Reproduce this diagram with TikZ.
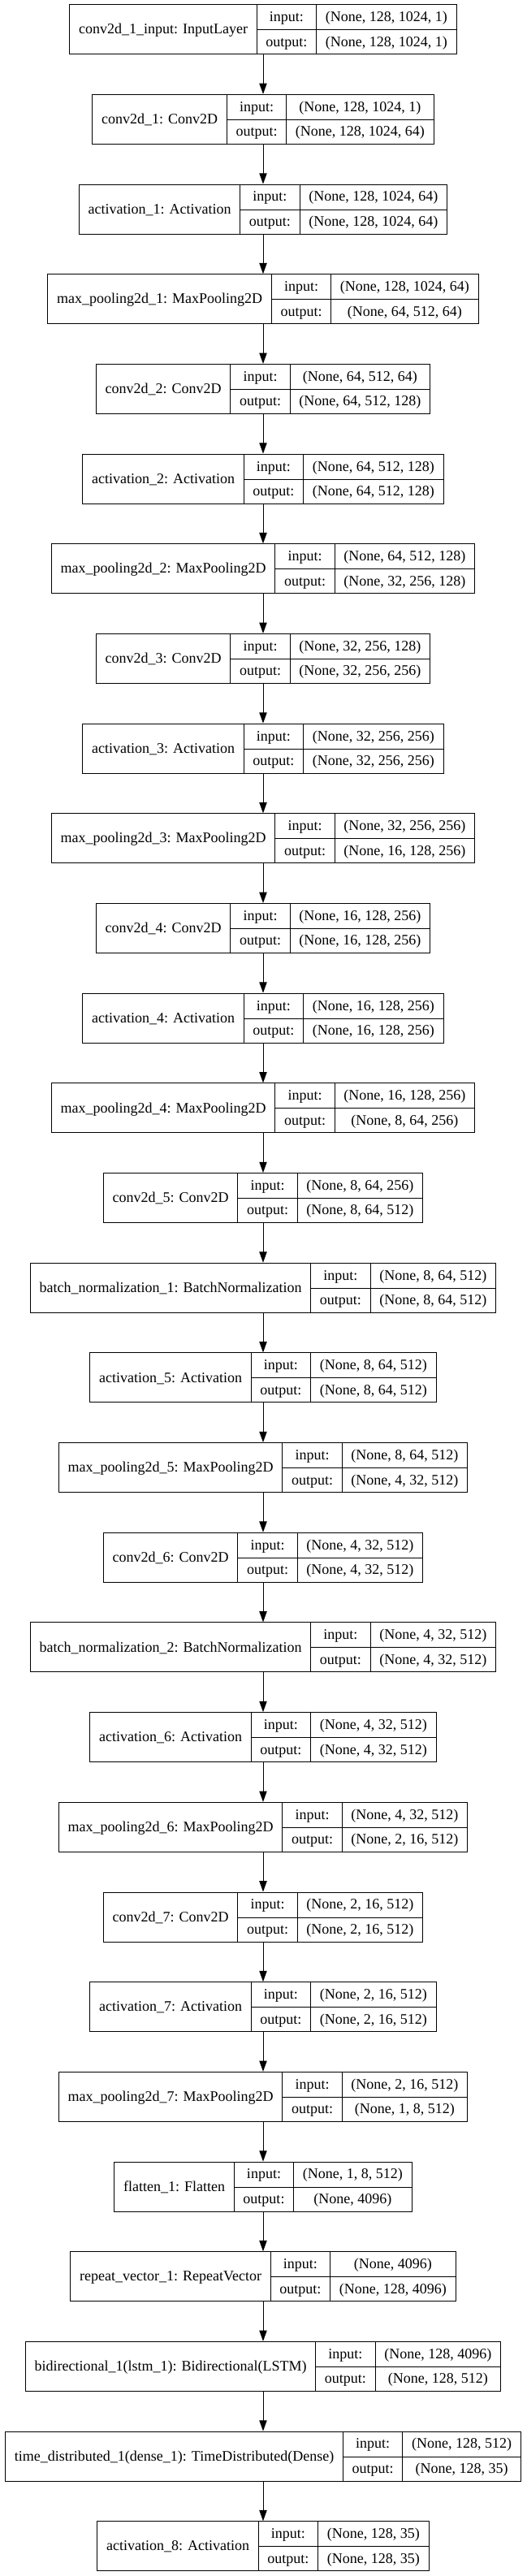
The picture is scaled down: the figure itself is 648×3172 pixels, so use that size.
\documentclass[tikz,border=0pt]{standalone}
\usepackage{fontspec}
\setmainfont{Liberation Serif}
\usepackage{tikz}
\usetikzlibrary{positioning,arrows.meta}

\setlength{\arrayrulewidth}{1pt}
\setlength{\tabcolsep}{11.2pt}
\newcommand{\rs}{\rule[-9.6pt]{0pt}{30.5pt}}
\newcommand{\layerrec}[3]{%
  \begin{tabular}{c|c|c}
    \raisebox{-15.25pt}[0pt][0pt]{#1} & input:\rs & #2 \\ \cline{2-3}
    & output:\rs & #3
  \end{tabular}}

\begin{document}
\begin{tikzpicture}[node distance=110.68pt]
                \tikzstyle{layer} = [rectangle, draw=black, line width=1pt, inner sep=0pt, font=\fontsize{18}{21.6}\selectfont]
                \tikzstyle{arrow} = [line width=1pt,->,>={Triangle[length=13.3pt,width=9.3pt]}]
                \useasboundingbox (0,0) rectangle (648pt,-3172pt);
                \node (inp) [layer] at (324pt,-36.2pt) {\layerrec{conv2d\_1\_input: InputLayer}{(None, 128, 1024, 1)}{(None, 128, 1024, 1)}};
                \node (conv1) [layer, below of=inp] {\layerrec{conv2d\_1: Conv2D}{(None, 128, 1024, 1)}{(None, 128, 1024, 64)}};
                \node (act1) [layer, below of=conv1] {\layerrec{activation\_1: Activation}{(None, 128, 1024, 64)}{(None, 128, 1024, 64)}};
                \node (pool1) [layer, below of=act1] {\layerrec{max\_pooling2d\_1: MaxPooling2D}{(None, 128, 1024, 64)}{(None, 64, 512, 64)}};
                \node (conv2) [layer, below of=pool1] {\layerrec{conv2d\_2: Conv2D}{(None, 64, 512, 64)}{(None, 64, 512, 128)}};
                \node (act2) [layer, below of=conv2] {\layerrec{activation\_2: Activation}{(None, 64, 512, 128)}{(None, 64, 512, 128)}};
                \node (pool2) [layer, below of=act2] {\layerrec{max\_pooling2d\_2: MaxPooling2D}{(None, 64, 512, 128)}{(None, 32, 256, 128)}};
                \node (conv3) [layer, below of=pool2] {\layerrec{conv2d\_3: Conv2D}{(None, 32, 256, 128)}{(None, 32, 256, 256)}};
                \node (act3) [layer, below of=conv3] {\layerrec{activation\_3: Activation}{(None, 32, 256, 256)}{(None, 32, 256, 256)}};
                \node (pool3) [layer, below of=act3] {\layerrec{max\_pooling2d\_3: MaxPooling2D}{(None, 32, 256, 256)}{(None, 16, 128, 256)}};
                \node (conv4) [layer, below of=pool3] {\layerrec{conv2d\_4: Conv2D}{(None, 16, 128, 256)}{(None, 16, 128, 256)}};
                \node (act4) [layer, below of=conv4] {\layerrec{activation\_4: Activation}{(None, 16, 128, 256)}{(None, 16, 128, 256)}};
                \node (pool4) [layer, below of=act4] {\layerrec{max\_pooling2d\_4: MaxPooling2D}{(None, 16, 128, 256)}{(None, 8, 64, 256)}};
                \node (conv5) [layer, below of=pool4] {\layerrec{conv2d\_5: Conv2D}{(None, 8, 64, 256)}{(None, 8, 64, 512)}};
                \node (bn1) [layer, below of=conv5] {\layerrec{batch\_normalization\_1: BatchNormalization}{(None, 8, 64, 512)}{(None, 8, 64, 512)}};
                \node (act5) [layer, below of=bn1] {\layerrec{activation\_5: Activation}{(None, 8, 64, 512)}{(None, 8, 64, 512)}};
                \node (pool5) [layer, below of=act5] {\layerrec{max\_pooling2d\_5: MaxPooling2D}{(None, 8, 64, 512)}{(None, 4, 32, 512)}};
                \node (conv6) [layer, below of=pool5] {\layerrec{conv2d\_6: Conv2D}{(None, 4, 32, 512)}{(None, 4, 32, 512)}};
                \node (bn2) [layer, below of=conv6] {\layerrec{batch\_normalization\_2: BatchNormalization}{(None, 4, 32, 512)}{(None, 4, 32, 512)}};
                \node (act6) [layer, below of=bn2] {\layerrec{activation\_6: Activation}{(None, 4, 32, 512)}{(None, 4, 32, 512)}};
                \node (pool6) [layer, below of=act6] {\layerrec{max\_pooling2d\_6: MaxPooling2D}{(None, 4, 32, 512)}{(None, 2, 16, 512)}};
                \node (conv7) [layer, below of=pool6] {\layerrec{conv2d\_7: Conv2D}{(None, 2, 16, 512)}{(None, 2, 16, 512)}};
                \node (act7) [layer, below of=conv7] {\layerrec{activation\_7: Activation}{(None, 2, 16, 512)}{(None, 2, 16, 512)}};
                \node (pool7) [layer, below of=act7] {\layerrec{max\_pooling2d\_7: MaxPooling2D}{(None, 2, 16, 512)}{(None, 1, 8, 512)}};
                \node (flat) [layer, below of=pool7] {\layerrec{flatten\_1: Flatten}{(None, 1, 8, 512)}{(None, 4096)}};
                \node (repeat) [layer, below of=flat] {\layerrec{repeat\_vector\_1: RepeatVector}{(None, 4096)}{(None, 128, 4096)}};
                \node (bilstm) [layer, below of=repeat] {\layerrec{bidirectional\_1(lstm\_1): Bidirectional(LSTM)}{(None, 128, 4096)}{(None, 128, 512)}};
                \node (tdense) [layer, below of=bilstm] {\layerrec{time\_distributed\_1(dense\_1): TimeDistributed(Dense)}{(None, 128, 512)}{(None, 128, 35)}};
                \node (act8) [layer, below of=tdense] {\layerrec{activation\_8: Activation}{(None, 128, 35)}{(None, 128, 35)}};

                \draw [arrow] (inp) -- (conv1);
                \draw [arrow] (conv1) -- (act1);
                \draw [arrow] (act1) -- (pool1);
                \draw [arrow] (pool1) -- (conv2);
                \draw [arrow] (conv2) -- (act2);
                \draw [arrow] (act2) -- (pool2);
                \draw [arrow] (pool2) -- (conv3);
                \draw [arrow] (conv3) -- (act3);
                \draw [arrow] (act3) -- (pool3);
                \draw [arrow] (pool3) -- (conv4);
                \draw [arrow] (conv4) -- (act4);
                \draw [arrow] (act4) -- (pool4);
                \draw [arrow] (pool4) -- (conv5);
                \draw [arrow] (conv5) -- (bn1);
                \draw [arrow] (bn1) -- (act5);
                \draw [arrow] (act5) -- (pool5);
                \draw [arrow] (pool5) -- (conv6);
                \draw [arrow] (conv6) -- (bn2);
                \draw [arrow] (bn2) -- (act6);
                \draw [arrow] (act6) -- (pool6);
                \draw [arrow] (pool6) -- (conv7);
                \draw [arrow] (conv7) -- (act7);
                \draw [arrow] (act7) -- (pool7);
                \draw [arrow] (pool7) -- (flat);
                \draw [arrow] (flat) -- (repeat);
                \draw [arrow] (repeat) -- (bilstm);
                \draw [arrow] (bilstm) -- (tdense);
                \draw [arrow] (tdense) -- (act8);
            \end{tikzpicture}
\end{document}
